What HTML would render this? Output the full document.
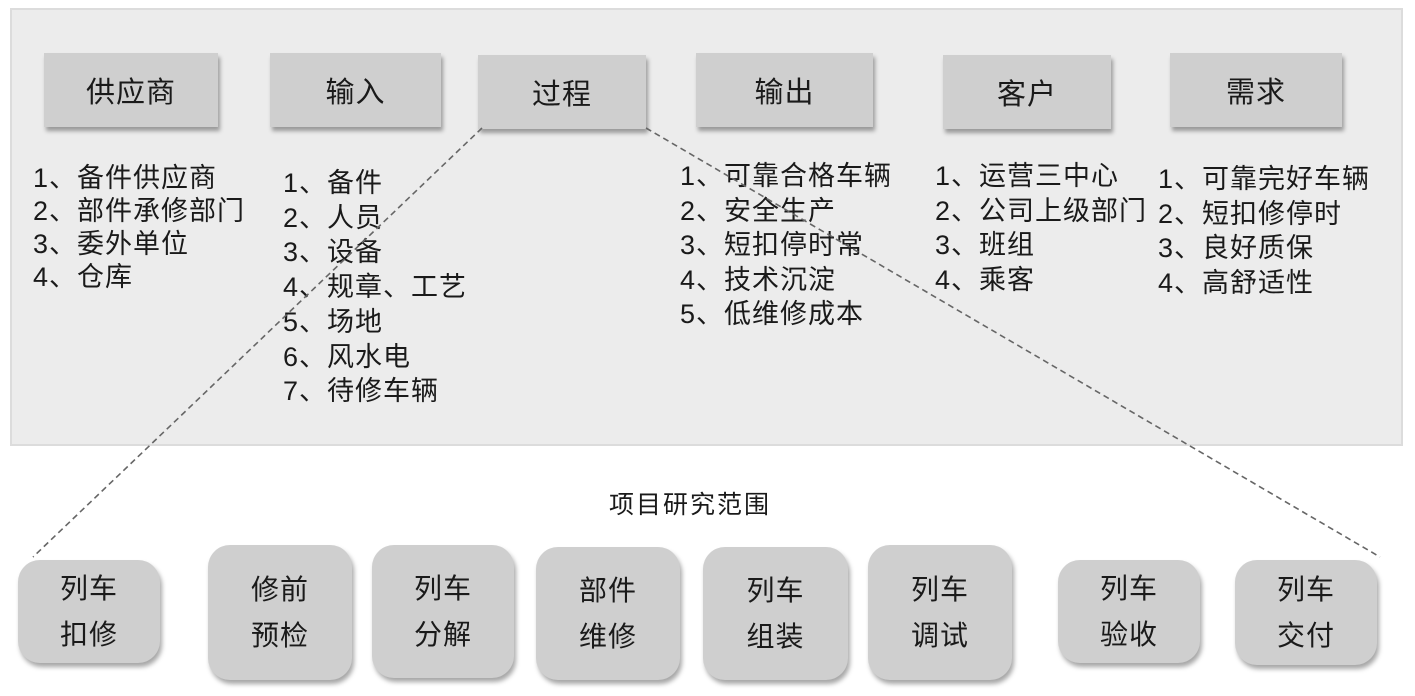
<!DOCTYPE html>
<html><head><meta charset="utf-8"><style>
body{margin:0;width:1415px;height:696px;background:#fff;position:relative;overflow:hidden;font-family:"Liberation Sans","Noto Sans CJK SC",sans-serif;color:#1a1a1a}
.panel{position:absolute;left:10px;top:8px;width:1393px;height:438px;background:#ececec;border:2px solid #dcdcdc;box-sizing:border-box}
.hb{position:absolute;height:74px;background:#cfcfcf;box-shadow:2px 4px 4px rgba(0,0,0,.35);display:flex;align-items:center;justify-content:center;font-size:29px;letter-spacing:1px}
.list{position:absolute;font-size:27px;letter-spacing:1px;white-space:nowrap}
.bb{position:absolute;background:#cfcfcf;border-radius:22px;box-shadow:2px 4px 5px rgba(0,0,0,.35);display:flex;align-items:center;justify-content:center;text-align:center;font-size:28px;line-height:46px;letter-spacing:1px}
</style></head><body>
<div class="panel"></div>
<div class="hb" style="left:44px;top:53px;width:174px">供应商</div>
<div class="hb" style="left:270px;top:53px;width:171px">输入</div>
<div class="hb" style="left:478px;top:55px;width:168px">过程</div>
<div class="hb" style="left:696px;top:53px;width:177px">输出</div>
<div class="hb" style="left:943px;top:55px;width:168px">客户</div>
<div class="hb" style="left:1170px;top:53px;width:172px">需求</div>
<div class="list" style="left:33px;top:162px;line-height:33px">1、备件供应商<br>2、部件承修部门<br>3、委外单位<br>4、仓库</div>
<div class="list" style="left:283px;top:166px;line-height:34.7px">1、备件<br>2、人员<br>3、设备<br>4、规章、工艺<br>5、场地<br>6、风水电<br>7、待修车辆</div>
<div class="list" style="left:680px;top:159px;line-height:34.5px">1、可靠合格车辆<br>2、安全生产<br>3、短扣停时常<br>4、技术沉淀<br>5、低维修成本</div>
<div class="list" style="left:935px;top:159px;line-height:34.5px">1、运营三中心<br>2、公司上级部门<br>3、班组<br>4、乘客</div>
<div class="list" style="left:1158px;top:162px;line-height:34.5px">1、可靠完好车辆<br>2、短扣修停时<br>3、良好质保<br>4、高舒适性</div>
<div style="position:absolute;left:570px;top:485px;width:240px;text-align:center;font-size:25px;letter-spacing:2px">项目研究范围</div>
<svg style="position:absolute;left:0;top:0" width="1415" height="696"><g stroke="#666" stroke-width="1.6" stroke-dasharray="6,4" fill="none"><line x1="482" y1="128" x2="33" y2="557"/><line x1="646" y1="128" x2="1380" y2="557"/></g></svg>
<div class="bb" style="left:18px;top:560px;width:142px;height:103px">列车<br>扣修</div>
<div class="bb" style="left:208px;top:545px;width:144px;height:135px">修前<br>预检</div>
<div class="bb" style="left:372px;top:545px;width:142px;height:133px">列车<br>分解</div>
<div class="bb" style="left:536px;top:547px;width:144px;height:133px">部件<br>维修</div>
<div class="bb" style="left:703px;top:547px;width:145px;height:133px">列车<br>组装</div>
<div class="bb" style="left:868px;top:545px;width:144px;height:135px">列车<br>调试</div>
<div class="bb" style="left:1058px;top:560px;width:142px;height:103px">列车<br>验收</div>
<div class="bb" style="left:1235px;top:560px;width:142px;height:105px">列车<br>交付</div>
</body></html>
